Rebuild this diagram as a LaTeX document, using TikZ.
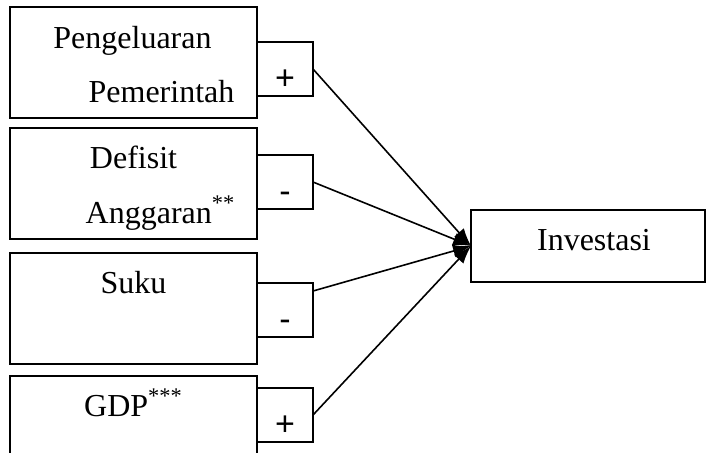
\documentclass[tikz,border=0pt]{standalone}
\usepackage{fontspec}
\setmainfont{Liberation Serif}
\newfontfamily\signfont{Liberation Sans}
\usetikzlibrary{arrows.meta,positioning}

\begin{document}
\begin{tikzpicture}[
    x=0.5pt, y=-0.5pt,
    every node/.style={font=\fontsize{16pt}{19pt}\selectfont},
    var/.style={rectangle, draw=black, line width=0.7pt, outer sep=0pt, inner sep=0pt, minimum width=123.5pt, minimum height=55.5pt},
    sign/.style={rectangle, draw=black, line width=0.7pt, outer sep=0pt, inner sep=0pt, minimum width=28pt, minimum height=27pt, text height=20pt, text depth=0pt, font=\signfont\fontsize{17pt}{20pt}\selectfont},
    lbl/.style={anchor=base, inner sep=0pt},
    arrow/.style={-{Latex[length=9pt,width=6.5pt]}, draw=black, line width=0.8pt}
]
    \useasboundingbox (0,0) rectangle (706,452);
    \clip (0,0) rectangle (706,452);

    % variable boxes
    \node (peng) [var, anchor=north west] at (10,7) {};
    \node (defisit) [var, below=5pt of peng] {};
    \node (suku) [var, below=7pt of defisit] {};
    \node (gdp) [var, below=6pt of suku] {};

    \node (peng-a) [lbl] at ([shift={(-1,41)}]peng.north) {Pengeluaran};
    \node (peng-b) [lbl] at ([shift={(28,95)}]peng.north) {Pemerintah};
    \node (defisit-a) [lbl] at ([shift={(0,40)}]defisit.north) {Defisit};
    \node (defisit-b) [lbl] at ([shift={(27,95)}]defisit.north) {Anggaran\textsuperscript{**}};
    \node (suku-a) [lbl] at ([shift={(0,40)}]suku.north) {Suku};
    \node (gdp-a) [lbl] at ([shift={(0,40)}]gdp.north) {GDP\textsuperscript{***}};

    % signs
    \node (s1) [sign, anchor=north west] at ([shift={(0,35)}]peng.north east) {+};
    \node (s2) [sign, anchor=north west] at ([shift={(0,27)}]defisit.north east) {-};
    \node (s3) [sign, anchor=north west] at ([shift={(0,30)}]suku.north east) {-};
    \node (s4) [sign, anchor=north west] at ([shift={(0,12)}]gdp.north east) {+};

    \node (inv) [var, anchor=north west, minimum width=117pt, minimum height=36pt, text height=12pt, text depth=8pt] at (471,210) {\hspace*{6pt}Investasi};

    \draw [arrow] (s1.east) -- (inv.west);
    \draw [arrow] (s2.east) -- (inv.west);
    \draw [arrow] ([yshift=-4pt]s3.north east) -- (inv.west);
    \draw [arrow] (s4.east) -- (inv.west);
\end{tikzpicture}
\end{document}
